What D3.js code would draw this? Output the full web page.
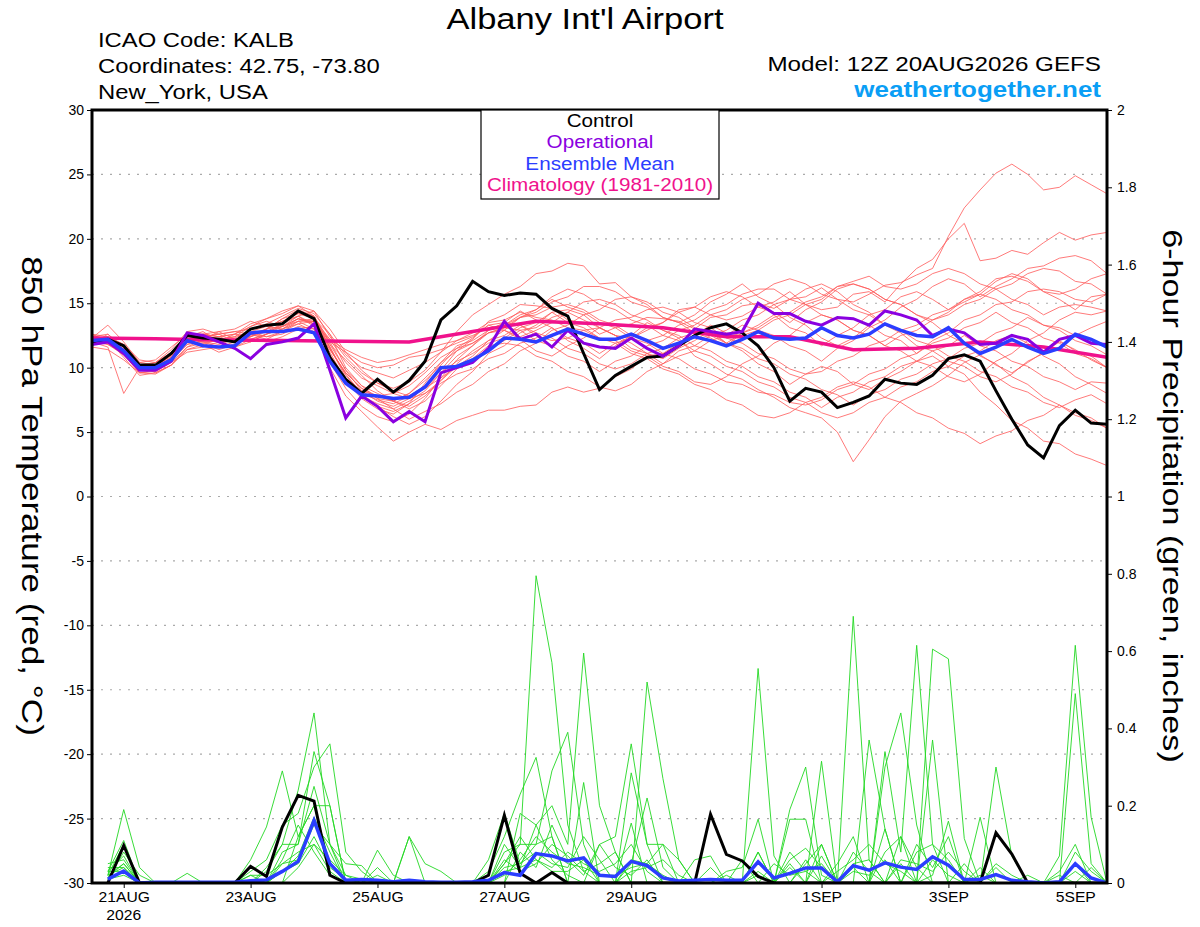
<!DOCTYPE html>
<html>
<head>
<meta charset="utf-8">
<script src="https://cdn.jsdelivr.net/npm/d3@7"></script>
<style>
body { margin: 0; background: #fff; }
text { font-family: "Liberation Sans", Arial, Helvetica, sans-serif; }
</style>
</head>
<body>
<svg id="chart" width="1200" height="927"></svg>
<script>
// 6-hourly steps from 12Z 20AUG2026 (index 0) to 12Z 5SEP2026 (index 64)
const tempControl = [12.0,12.2,11.7,10.2,10.2,11.1,12.5,12.3,12.2,12.0,13.0,13.3,13.4,14.4,13.8,10.8,9.1,8.0,9.1,8.1,9.0,10.5,
  13.7,14.8,16.7,15.9,15.6,15.8,15.7,14.6,14.0,11.1,8.3,9.4,10.1,10.8,10.9,11.7,12.5,13.1,13.4,12.7,11.7,10.0,
  7.4,8.4,8.1,6.9,7.3,7.8,9.1,8.8,8.7,9.4,10.7,11.0,10.5,8.2,6.0,4.0,3.0,5.5,6.7,5.7,5.6];

const tempOper = [11.8,12.0,11.1,9.8,9.8,10.5,12.7,12.5,12.0,11.5,10.7,11.8,12.0,12.3,13.4,9.8,6.1,7.8,7.0,5.8,6.6,5.8,
  9.6,10.0,10.4,11.5,13.6,12.2,12.6,11.6,12.9,11.9,11.6,11.5,12.3,11.5,10.9,11.7,13.0,12.8,12.6,12.8,15.0,14.2,
  14.2,13.6,13.3,13.9,13.8,13.3,14.4,14.1,13.7,12.5,13.0,12.7,11.8,11.9,12.5,12.2,11.2,12.2,12.5,11.9,11.8];

const tempMean = [12.1,12.2,11.3,10.0,10.0,10.6,12.1,11.7,11.6,11.7,12.7,12.8,12.8,13.0,12.7,10.5,8.8,7.9,7.8,7.6,7.7,8.5,
  10.0,10.1,10.6,11.3,12.3,12.2,12.0,12.5,13.0,12.6,12.2,12.2,12.6,12.1,11.5,11.9,12.4,12.1,11.7,12.2,12.8,12.3,
  12.2,12.3,13.1,12.5,12.3,12.6,13.4,12.9,12.5,12.4,13.1,11.9,11.1,11.6,12.2,11.6,11.1,11.5,12.6,12.2,11.6];

// climatology, one value per day at 12Z
const climDaily = [12.3,12.25,12.15,12.1,12.05,12.0,12.8,13.6,13.4,13.1,12.4,12.4,11.4,11.5,12.0,11.6,10.8];

const tempMembers = [
  [12.2,12.0,11.5,10.0,10.2,11.0,12.2,12.0,12.1,12.3,12.8,13.2,13.6,14.2,13.9,11.5,9.5,8.0,7.5,7.2,7.8,8.6,
   9.8,11.3,12.2,13.6,14.1,14.9,14.8,14.6,13.7,13.5,12.6,13.1,13.4,13.9,13.8,13.6,13.0,13.9,14.1,14.8,15.0,14.6,
   15.3,15.5,16.2,15.3,15.1,15.7,16.4,16.6,17.2,17.7,20.2,22.4,23.8,25.1,25.8,25.0,23.8,24.0,24.9,24.2,23.5],
  [12.0,12.3,11.0,9.8,9.9,10.6,11.8,12.4,12.6,12.0,12.5,13.0,13.8,14.5,14.0,12.0,11.2,10.4,10.0,10.2,10.8,11.0,
   11.4,11.9,12.4,13.3,12.9,12.4,12.9,13.5,14.3,13.7,13.1,12.5,12.3,12.9,13.5,14.5,14.7,14.1,13.7,14.0,14.7,15.1,
   15.9,14.9,14.5,14.7,15.7,15.9,15.1,16.5,17.7,18.4,20.0,21.2,18.3,18.5,19.1,18.8,19.7,20.5,19.9,20.3,20.5],
  [12.4,11.8,11.2,9.6,9.7,10.4,11.6,11.9,11.4,11.8,12.6,12.8,13.4,14.0,13.2,10.4,8.4,7.0,6.2,5.8,6.4,7.6,
   9.2,10.6,11.7,12.7,12.9,12.2,11.3,10.9,11.7,12.3,13.1,12.5,11.9,11.1,10.7,11.5,12.1,12.9,11.9,11.3,10.3,9.7,
   8.7,9.5,10.1,9.7,8.7,8.3,9.1,9.7,10.5,10.9,10.1,9.5,8.1,7.1,5.9,5.3,4.3,4.1,3.3,2.9,2.4],
  [11.8,12.6,11.4,10.2,10.0,10.8,12.0,12.6,12.2,12.4,13.2,13.6,13.2,13.8,13.4,11.0,9.0,7.6,6.8,6.4,7.2,8.8,
   10.4,11.7,12.1,12.9,13.5,14.4,13.7,13.1,12.1,11.5,10.7,11.7,12.5,13.5,12.9,12.3,10.9,10.3,9.5,9.1,8.3,7.7,
   6.9,6.5,6.1,5.0,2.7,4.4,6.2,7.4,8.0,8.6,9.4,10.4,11.0,10.2,9.6,10.4,11.2,12.0,11.4,10.6,10.0],
  [12.1,12.2,10.8,9.4,9.6,10.2,11.4,11.6,12.0,12.6,13.4,13.8,14.2,14.8,14.4,12.4,10.8,9.6,8.8,8.4,8.9,9.8,
   11.2,12.8,14.1,14.9,15.7,16.3,17.3,17.5,18.1,17.9,16.5,16.6,15.5,14.9,13.9,13.5,12.7,12.3,11.7,12.7,13.3,14.1,
   13.1,12.7,11.7,12.5,13.1,14.1,14.5,15.5,15.9,15.3,14.5,15.1,15.7,16.7,17.3,16.9,15.9,15.3,14.5,15.5,15.7],
  [12.6,12.0,11.0,9.8,10.1,10.9,12.4,12.8,12.0,11.6,12.0,12.6,13.0,13.6,13.0,10.0,7.8,6.6,5.4,4.3,5.0,5.6,
   5.2,5.9,6.3,6.7,6.7,7.0,7.1,8.1,8.5,8.1,8.4,9.3,9.9,10.9,11.1,11.9,12.5,13.3,12.7,12.5,12.9,13.7,
   14.1,14.9,15.3,16.3,16.5,16.1,15.3,14.9,14.1,13.7,14.3,15.3,15.9,16.9,17.1,16.7,15.9,15.7,16.1,16.9,17.3],
  [11.6,11.4,10.6,9.6,9.8,10.6,11.8,12.0,11.8,12.2,12.6,12.4,12.8,13.4,13.6,12.0,9.8,8.2,7.4,7.0,7.6,8.4,
   9.6,10.5,11.1,11.9,12.3,13.1,13.5,14.3,14.5,14.1,13.1,12.5,11.5,11.1,10.3,10.9,11.3,12.1,12.5,13.3,12.9,12.5,
   11.7,11.3,10.5,11.5,12.1,13.1,13.7,14.7,15.3,16.3,16.9,16.5,15.5,16.3,16.9,17.7,17.9,18.5,18.7,18.3,17.3],
  [12.3,13.3,12.0,10.4,10.2,11.2,12.6,12.2,12.8,13.0,13.6,13.2,13.0,13.4,12.8,10.8,9.2,8.2,7.8,8.0,8.6,9.6,
   10.8,11.5,11.9,12.7,13.1,13.9,14.3,15.1,15.5,16.3,16.3,15.9,15.1,14.7,13.9,13.5,14.1,15.1,15.7,16.5,15.5,14.9,
   13.9,13.3,12.3,11.7,12.3,13.3,12.5,12.1,11.1,12.1,12.7,13.7,14.1,14.9,15.1,15.9,16.1,15.9,15.3,15.1,15.7],
  [12.0,11.6,8.0,10.0,10.4,11.2,12.0,11.8,11.2,11.6,12.2,12.6,13.0,13.8,13.4,12.2,11.4,10.8,10.4,10.6,11.0,11.4,
   11.8,12.1,12.7,13.5,13.7,14.3,13.9,13.7,13.1,12.9,12.3,12.1,11.3,10.9,10.1,9.7,8.9,8.7,9.3,10.3,10.9,11.9,
   12.5,13.5,14.1,13.7,12.9,12.5,11.7,11.3,10.5,10.1,9.3,8.9,9.5,10.5,11.1,12.1,12.7,13.7,14.3,14.1,14.4],
  [12.5,12.2,11.2,9.9,9.8,10.4,11.2,11.4,11.6,12.0,12.2,12.0,12.4,13.0,13.2,11.8,10.6,9.4,8.2,7.4,6.8,7.4,
   8.6,9.9,10.7,11.7,11.9,11.7,10.9,10.5,9.7,9.3,8.5,8.2,8.7,9.7,10.3,11.3,11.7,12.5,12.9,13.7,14.1,14.9,
   15.3,16.1,16.5,15.9,14.9,14.3,13.3,12.7,11.7,11.3,10.5,10.1,9.3,8.9,9.5,10.5,11.1,12.1,11.3,10.9,10.0],
  [11.9,12.4,11.8,10.6,10.4,11.4,12.8,13.0,12.6,12.8,13.0,13.4,14.0,14.6,14.2,12.6,10.0,8.6,7.6,6.8,6.0,6.6,
   7.2,8.1,8.7,9.7,10.3,11.3,11.9,12.9,13.3,14.1,14.5,15.3,15.5,15.1,14.3,13.9,13.1,12.7,11.9,11.5,10.7,10.3,
   9.5,9.1,8.3,7.9,7.1,7.9,8.3,9.1,9.5,10.3,10.7,11.5,11.9,12.7,13.1,13.9,13.3,13.1,12.5,13.1,13.6],
  [12.2,12.0,11.4,10.2,9.6,10.2,11.6,12.2,12.4,12.6,12.4,12.8,13.2,13.6,13.8,12.2,10.4,9.2,8.6,8.0,7.6,8.0,
   8.8,9.5,9.9,10.7,11.1,11.9,12.3,13.1,12.3,11.9,11.1,11.9,12.3,13.1,13.5,14.3,14.7,15.5,15.9,15.5,14.7,14.3,
   13.5,14.5,15.1,16.1,16.5,16.1,15.3,14.9,14.1,13.5,12.5,11.9,10.9,10.3,9.3,8.7,7.7,7.1,6.3,5.9,5.3],
  [12.4,12.6,11.6,10.0,9.9,10.8,12.2,12.6,12.8,12.2,12.0,12.6,13.2,14.0,14.4,13.0,11.2,9.8,8.8,8.2,7.8,8.4,
   9.2,10.1,10.5,11.5,12.1,12.9,13.1,13.9,14.3,15.1,15.3,14.9,14.1,13.7,12.9,12.5,11.7,11.3,10.5,10.1,9.3,8.9,
   8.1,7.7,6.9,7.7,8.1,8.9,9.3,10.1,10.5,11.3,11.7,12.5,11.7,11.3,10.5,10.1,9.3,8.9,8.3,8.9,8.8],
  [12.0,11.8,11.0,9.8,10.0,11.0,12.4,12.4,12.2,12.4,12.8,12.4,12.6,13.2,13.0,11.4,9.6,8.4,7.6,7.4,7.0,7.8,
   9.0,10.3,11.3,12.1,12.5,13.3,12.7,12.3,11.5,11.1,10.3,9.9,10.3,11.1,11.5,12.3,12.7,12.5,11.9,12.7,13.1,13.9,
   14.3,15.1,15.5,16.3,16.7,17.1,16.3,16.1,16.5,17.3,17.7,17.3,16.5,16.1,15.3,14.9,14.1,14.7,14.9,14.7,14.4],
  [12.1,12.4,11.8,10.4,10.6,11.6,12.6,12.6,12.4,12.0,12.4,13.0,13.6,14.0,13.4,11.2,9.0,7.8,7.2,6.8,7.4,8.2,
   9.6,10.9,11.7,12.9,13.3,14.1,14.5,15.3,14.7,14.3,13.5,13.1,12.3,11.9,11.1,10.7,9.9,9.5,8.9,8.7,8.1,7.9,
   7.3,7.1,7.5,8.3,8.7,9.5,9.9,10.7,11.1,11.9,12.3,13.1,13.5,14.3,13.5,13.1,12.3,11.9,11.1,10.7,10.0],
  [12.3,12.1,11.0,9.6,9.5,10.2,11.4,11.8,12.2,12.0,12.2,12.6,13.4,14.4,14.0,11.8,9.8,8.6,8.0,7.4,8.0,9.0,
   10.2,11.5,12.3,13.3,13.5,13.3,12.5,12.1,12.3,12.9,13.1,13.7,13.9,14.5,14.7,14.3,13.5,13.1,12.3,11.9,11.1,10.7,
   9.9,9.5,9.7,10.5,10.9,11.7,12.1,12.9,13.3,14.1,14.5,15.3,15.7,15.3,14.5,14.1,13.3,12.9,12.1,11.7,11.0],
  [11.8,12.0,11.2,10.2,10.4,11.0,12.0,12.4,12.6,12.8,12.6,12.2,12.8,13.6,13.6,11.6,9.4,8.0,7.0,6.2,5.6,6.2,
   7.4,8.7,9.7,11.1,11.7,12.7,13.3,14.3,13.5,13.1,12.3,11.9,11.1,10.7,9.9,9.5,8.7,8.3,7.5,7.1,6.3,6.1,
   6.5,7.3,7.7,8.5,8.9,8.5,7.7,7.3,6.5,6.1,5.3,4.9,4.1,4.7,5.1,5.9,6.3,7.1,6.5,6.1,5.3],
  [12.6,12.4,11.6,10.0,10.0,10.8,12.2,12.0,11.6,11.8,12.4,13.0,13.8,14.2,13.8,12.6,11.0,10.0,9.6,9.2,9.8,10.4,
   11.2,12.1,12.5,13.1,13.3,13.9,14.1,14.7,14.9,14.5,13.7,13.3,12.5,12.1,12.5,13.3,13.7,14.5,14.9,15.7,16.1,16.1,
   15.3,14.9,14.1,13.7,12.9,12.5,11.7,12.5,12.9,13.7,14.1,14.9,15.3,16.1,16.5,17.3,17.7,17.5,16.7,16.5,15.7],
  [12.0,12.2,11.4,10.2,10.2,11.0,12.4,12.6,12.4,12.6,13.2,13.8,14.4,14.8,14.0,11.6,9.2,7.8,7.0,6.6,7.2,8.0,
   9.0,10.1,10.9,12.1,12.9,13.9,14.5,15.5,16.1,15.7,14.9,14.5,13.7,13.3,12.5,12.1,11.3,10.9,10.1,9.7,8.9,8.5,
   7.7,7.3,6.5,6.1,6.5,7.3,7.7,8.5,8.9,9.7,10.1,10.9,11.3,12.1,12.5,11.9,10.9,10.3,9.3,8.7,8.0],
  [12.2,11.9,11.0,9.8,9.9,10.7,12.0,12.2,12.0,12.2,12.6,13.0,13.2,13.8,13.6,11.4,9.6,8.4,7.8,7.4,8.0,9.2,
   10.4,11.3,11.9,12.7,13.1,12.9,12.1,11.7,10.9,10.5,9.7,10.5,10.9,11.7,12.1,12.9,13.3,14.1,14.5,15.3,15.7,16.5,
   16.9,16.5,15.7,15.3,14.5,14.1,13.3,12.9,12.1,11.7,10.9,10.5,9.7,9.3,8.5,8.1,7.3,6.9,7.5,7.9,7.2]
];

// 6-hour precipitation (inches), indices 1..64
const precipControl = [0,0.097,0,0,0,0,0,0,0,0.043,0.017,0.145,0.227,0.212,0.02,0,
  0,0,0,0,0,0,0,0,0.02,0.175,0.025,0,0.027,0,0,0,
  0,0,0,0,0,0,0.178,0.074,0.057,0.017,0,0,0,0,0,0,
  0,0,0,0,0,0,0,0,0.13,0.075,0,0,0,0,0,0];

const precipMean = [0.01,0.031,0,0.002,0.002,0.002,0.002,0.002,0.002,0.006,0.008,0.03,0.056,0.162,0.05,0.007,
  0.009,0.007,0.003,0.007,0.003,0.002,0.002,0.003,0.007,0.027,0.02,0.076,0.07,0.057,0.065,0.02,
  0.017,0.056,0.045,0.013,0.005,0.007,0.009,0.007,0.007,0.055,0.013,0.025,0.039,0.039,0.003,0.045,
  0.033,0.052,0.041,0.035,0.068,0.046,0.009,0.009,0.022,0.007,0.003,0,0.003,0.05,0.013,0];

const precipMembers = [
  [0.02,0.19,0.04,0,0,0,0,0, 0,0,0.03,0.1,0.24,0.44,0.1,0.02, 0,0,0,0,0,0,0,0, 0,0.08,0.1,0.795,0.57,0.15,0.03,0,
   0,0.05,0.22,0.04,0,0,0,0, 0,0.08,0,0,0.05,0.1,0,0.69, 0.06,0,0.12,0,0.02,0.16,0,0, 0,0,0,0,0,0.05,0,0],
  [0.03,0.11,0,0,0,0,0,0, 0,0.06,0.145,0.29,0.12,0.2,0.05,0, 0,0.085,0.02,0,0,0,0,0, 0.03,0.12,0.23,0.325,0.12,0,0,0.1,
   0.12,0.36,0.1,0,0,0,0,0, 0,0.555,0.07,0,0,0,0,0.04, 0,0.34,0.08,0.615,0.1,0,0,0, 0,0,0,0,0.07,0.615,0.17,0],
  [0.01,0.08,0.02,0,0,0,0,0, 0,0.03,0.06,0.15,0.18,0.3,0.36,0.08, 0.03,0,0,0.12,0.05,0.03,0,0, 0.06,0.18,0.05,0.1,0.29,0.39,0.1,0,
   0,0,0.52,0.27,0.06,0,0,0, 0,0,0,0.19,0.3,0.02,0,0, 0.37,0.14,0,0,0.605,0.58,0.115,0, 0,0,0,0,0,0,0,0],
  [0.05,0.06,0,0,0,0.025,0,0, 0,0.02,0,0.08,0.1,0.34,0.2,0, 0,0.04,0,0,0,0,0,0, 0,0,0.18,0.15,0.2,0.1,0.595,0.2,
   0.08,0,0,0,0,0.06,0.07,0, 0.06,0,0,0,0,0.315,0,0, 0,0.3,0.44,0.15,0,0,0,0, 0.3,0.07,0,0,0,0,0,0],
  [0.02,0.05,0,0,0,0,0,0, 0,0,0.04,0.1,0.1,0.25,0.1,0.05, 0.045,0,0,0,0,0,0,0, 0,0.05,0.1,0.1,0.12,0,0.26,0,
   0,0.285,0.1,0.1,0,0,0,0.03, 0.04,0.165,0,0.165,0.165,0,0,0, 0,0,0,0,0.37,0,0,0.17, 0,0,0.02,0,0,0.49,0.05,0],
  [0.04,0.04,0,0,0,0,0,0, 0,0,0,0.05,0.06,0.15,0.1,0, 0,0,0,0,0,0,0,0, 0,0.04,0.05,0.08,0.05,0.04,0.12,0.06,
   0,0.155,0,0,0,0,0,0, 0,0.08,0,0,0,0,0.05,0.12, 0,0.14,0,0,0,0,0,0.04, 0,0,0,0,0,0,0,0],
  [0.03,0.03,0,0,0,0,0,0, 0,0.02,0.02,0.05,0.08,0.1,0.06,0.02, 0.01,0,0,0,0,0,0,0, 0,0.02,0.06,0.12,0.08,0.05,0.04,0.02,
   0.02,0.04,0.05,0.02,0,0,0,0, 0,0,0,0,0.06,0,0,0.05, 0.06,0,0.05,0,0,0,0.05,0, 0,0,0,0,0,0,0,0],
  [0.01,0.02,0,0,0,0,0,0, 0,0,0,0,0.12,0.2,0.2,0, 0,0,0,0,0,0,0,0, 0,0.03,0.04,0.15,0.06,0.02,0,0,
   0,0.06,0.05,0.1,0.06,0,0,0, 0,0,0,0.05,0,0.1,0,0, 0,0.08,0.12,0.04,0,0,0,0, 0.04,0,0,0,0,0,0,0],
  [0.02,0.1,0,0,0,0,0,0, 0,0,0,0,0.04,0.1,0.03,0, 0,0,0,0.12,0,0,0,0, 0,0.1,0.04,0.06,0.04,0.08,0.05,0.03,
   0.05,0.1,0.03,0,0,0,0,0, 0,0,0,0.06,0.09,0.04,0,0, 0,0,0,0.08,0.1,0.06,0,0, 0.05,0.02,0,0,0,0.08,0.03,0],
  [0.015,0.05,0,0,0,0,0,0, 0,0,0,0.03,0.05,0.12,0.04,0.01, 0,0,0,0,0,0,0,0, 0,0.06,0.03,0.05,0.1,0.07,0.03,0.05,
   0.08,0,0,0,0,0,0.04,0, 0,0.03,0,0.04,0,0.07,0,0.03, 0.02,0.06,0,0.1,0.04,0.12,0,0.02, 0,0,0,0,0.02,0,0.04,0],
  [0.03,0.07,0,0,0,0,0,0, 0,0,0,0.06,0.15,0.08,0.02,0, 0,0,0,0,0,0,0,0, 0,0,0.08,0.04,0.15,0.06,0.02,0.1,
   0.04,0.02,0.06,0,0,0,0,0.02, 0,0,0.05,0.02,0.03,0,0.03,0.06, 0.1,0.05,0.03,0,0.06,0.02,0,0, 0,0,0,0,0.03,0.1,0,0],
  [0.02,0.04,0,0,0,0,0,0, 0,0,0,0.03,0.07,0.17,0.08,0, 0,0.02,0,0,0,0,0,0, 0,0.05,0.12,0.06,0.03,0.03,0.06,0,
   0,0.03,0.04,0.06,0.02,0,0,0, 0,0.02,0,0.08,0.03,0.05,0,0.08, 0.03,0,0.06,0.05,0.03,0.08,0.03,0, 0,0,0,0,0,0.03,0,0]
];

const tempTicks = [-30,-25,-20,-15,-10,-5,0,5,10,15,20,25,30];
const precipTicks = [0,0.2,0.4,0.6,0.8,1,1.2,1.4,1.6,1.8,2];
const dateTickDays = [[7,21],[7,23],[7,25],[7,27],[7,29],[8,1],[8,3],[8,5]];
const dateTickLabels = ["21AUG","23AUG","25AUG","27AUG","29AUG","1SEP","3SEP","5SEP"];
const legendLabels = ["Control","Operational","Ensemble Mean","Climatology (1981-2010)"];
const legendColors = ["#000000","#8a00e0","#2b3dff","#f0128c"];

const svg = d3.select("#chart");
svg.append("rect").attr("width", 1200).attr("height", 927).attr("fill", "#fff");

const plotL = 92, plotR = 1107, plotT = 110, plotB = 883;
const start = Date.UTC(2026, 7, 20, 12);
const stepMs = 6 * 3600 * 1000;
const t = i => new Date(start + i * stepMs);

const x = d3.scaleUtc().domain([t(0), t(64)]).range([plotL, plotR]);
const yT = d3.scaleLinear().domain([-30, 30]).range([plotB, plotT]);
const yP = d3.scaleLinear().domain([0, 2]).range([plotB, plotT]);

// the original font runs wider than Liberation Sans, so stretch key texts
function widen(sel, factor) {
  sel.each(function() {
    const w = this.getComputedTextLength();
    d3.select(this).attr("textLength", w * factor).attr("lengthAdjust", "spacingAndGlyphs");
  });
}

svg.append("clipPath").attr("id", "plotclip")
  .append("rect").attr("x", plotL).attr("y", plotT).attr("width", plotR - plotL).attr("height", plotB - plotT);

// dotted grid
svg.append("g").selectAll("line")
  .data(tempTicks.filter(d => d > -30 && d < 30))
  .enter().append("line")
  .attr("x1", plotL).attr("x2", plotR)
  .attr("y1", d => yT(d)).attr("y2", d => yT(d))
  .attr("stroke", "#aaa").attr("stroke-width", 1.2)
  .attr("stroke-dasharray", "2,7");

const plot = svg.append("g").attr("clip-path", "url(#plotclip)");

const tempLine = d3.line().x((d, i) => x(t(i))).y(d => yT(d));
const precipLine = d3.line().x((d, i) => x(t(i + 1))).y(d => yP(d));
const climLine = d3.line().x((d, i) => x(t(i * 4))).y(d => yT(d));

plot.append("g").selectAll("path").data(tempMembers).enter().append("path")
  .attr("d", tempLine).attr("fill", "none")
  .attr("stroke", "#ff5a5a").attr("stroke-width", 0.9).attr("stroke-opacity", 0.9);

plot.append("g").selectAll("path").data(precipMembers).enter().append("path")
  .attr("d", precipLine).attr("fill", "none")
  .attr("stroke", "#22d822").attr("stroke-width", 0.9);

plot.append("path").datum(precipControl).attr("d", precipLine)
  .attr("fill", "none").attr("stroke", "#000").attr("stroke-width", 3);
plot.append("path").datum(precipMean).attr("d", precipLine)
  .attr("fill", "none").attr("stroke", "#2b3dff").attr("stroke-width", 3.5);

plot.append("path").datum(climDaily).attr("d", climLine)
  .attr("fill", "none").attr("stroke", "#f0128c").attr("stroke-width", 3.5);
plot.append("path").datum(tempControl).attr("d", tempLine)
  .attr("fill", "none").attr("stroke", "#000").attr("stroke-width", 3);
plot.append("path").datum(tempOper).attr("d", tempLine)
  .attr("fill", "none").attr("stroke", "#8a00e0").attr("stroke-width", 3);
plot.append("path").datum(tempMean).attr("d", tempLine)
  .attr("fill", "none").attr("stroke", "#2b3dff").attr("stroke-width", 3.5);

// axes
const axisLeft = d3.axisLeft(yT).tickValues(tempTicks).tickSize(5).tickPadding(3)
  .tickFormat(d => String(d));
const gl = svg.append("g").attr("transform", `translate(${plotL},0)`).call(axisLeft);
const axisRight = d3.axisRight(yP).tickValues(precipTicks).tickSize(5).tickPadding(5)
  .tickFormat(d => String(d));
const gr = svg.append("g").attr("transform", `translate(${plotR},0)`).call(axisRight);
const dateTicks = dateTickDays.map(d => new Date(Date.UTC(2026, d[0], d[1], 0)));
const axisBottom = d3.axisBottom(x).tickValues(dateTicks).tickSize(5).tickPadding(4)
  .tickFormat((d, i) => dateTickLabels[i]);
const gb = svg.append("g").attr("transform", `translate(0,${plotB})`).call(axisBottom);

[gl, gr, gb].forEach(g => {
  g.select(".domain").remove();
  g.selectAll("text").attr("font-size", 14).attr("fill", "#000")
    .attr("font-family", "\"Liberation Sans\", Arial, sans-serif");
  g.selectAll("line").attr("stroke", "#000");
});
widen(gb.selectAll("text"), 1.12);

const yr = svg.append("text").attr("x", x(dateTicks[0])).attr("y", 920)
  .attr("text-anchor", "middle").attr("font-size", 14).text("2026");
widen(yr, 1.12);

// frame
svg.append("rect").attr("x", plotL).attr("y", plotT)
  .attr("width", plotR - plotL).attr("height", plotB - plotT)
  .attr("fill", "none").attr("stroke", "#000").attr("stroke-width", 3);

// legend
const lg = svg.append("g");
lg.append("rect").attr("x", 481).attr("y", plotT).attr("width", 238).attr("height", 89)
  .attr("fill", "#fff").attr("stroke", "#000").attr("stroke-width", 1.2);
const lt = lg.selectAll("text").data(legendLabels).enter().append("text")
  .attr("x", 600).attr("y", (d, i) => 127 + i * 21.3)
  .attr("text-anchor", "middle").attr("font-size", 17.5)
  .attr("fill", (d, i) => legendColors[i]).text(d => d);
widen(lt, 1.18);

// titles
const title = svg.append("text").attr("x", 585).attr("y", 29).attr("text-anchor", "middle")
  .attr("font-size", 29).text("Albany Int'l Airport");
widen(title, 1.19);
const info = ["ICAO Code: KALB", "Coordinates: 42.75, -73.80", "New_York, USA"];
const it = svg.append("g").selectAll("text").data(info).enter().append("text")
  .attr("x", 98).attr("y", (d, i) => 47 + i * 26).attr("font-size", 20).text(d => d);
widen(it, 1.19);
const model = svg.append("text").attr("x", 1101).attr("y", 71).attr("text-anchor", "end")
  .attr("font-size", 20).text("Model: 12Z 20AUG2026 GEFS");
widen(model, 1.21);
const site = svg.append("text").attr("x", 1101).attr("y", 97).attr("text-anchor", "end")
  .attr("font-size", 22).attr("font-weight", "bold").attr("fill", "#0a9ef5")
  .text("weathertogether.net");
widen(site, 1.18);

const yl = svg.append("text").attr("transform", "translate(22,496) rotate(90)")
  .attr("text-anchor", "middle").attr("font-size", 30)
  .text("850 hPa Temperature (red, °C)");
widen(yl, 1.17);
const yr2 = svg.append("text").attr("transform", "translate(1163,496) rotate(90)")
  .attr("text-anchor", "middle").attr("font-size", 28)
  .text("6-hour Precipitation (green, inches)");
widen(yr2, 1.22);
</script>
</body>
</html>
